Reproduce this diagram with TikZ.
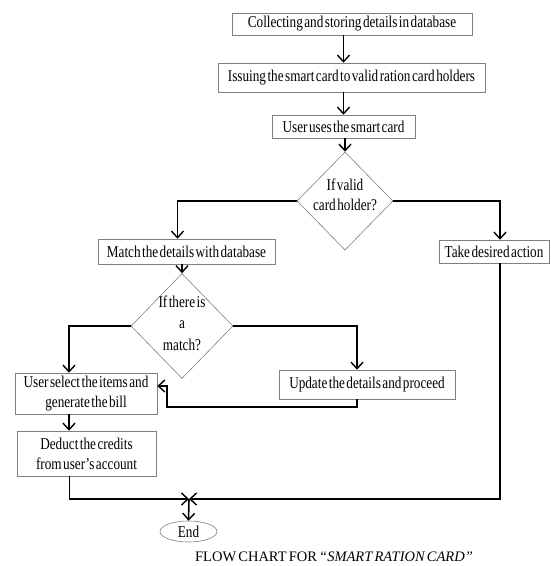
\documentclass[tikz,border=0pt]{standalone}
\usepackage{fontspec}
\setmainfont{Liberation Serif}[FakeStretch=0.8, WordSpace=0.45]
\newfontfamily\capfont{Liberation Serif}[WordSpace=0.6]
\usetikzlibrary{arrows.meta,shapes.geometric}
\begin{document}
\begin{tikzpicture}[x=1pt,y=-1pt,
  box/.style={draw=black!50, line width=0.6pt, rectangle, inner sep=0pt, align=center,
    font=\fontsize{16.5}{20}\selectfont},
  dia/.style={draw=black!50, line width=0.6pt, diamond, inner sep=0pt},
  dtext/.style={align=center, inner sep=0pt, font=\fontsize{16.5}{20}\selectfont},
  conn/.style={line width=1.6pt, black},
  arr/.style={conn, -{Straight Barb[length=6.5pt,width=12pt,line width=1.4pt]}}
]
\useasboundingbox (0,0) rectangle (551,566);
% boxes
\node[box, minimum width=240pt, minimum height=22pt] (b1) at (352,24) {Collecting and storing details in database};
\node[box, minimum width=267pt, minimum height=29pt] (b2) at (351.5,77.5) {Issuing the smart card to valid ration card holders};
\node[box, minimum width=143pt, minimum height=23pt] (b3) at (343.5,126.5) {User uses the smart card};
\node[dia, minimum width=96pt, minimum height=98pt] (d1) at (345,201) {};
\node[dtext] (d1t) at (345,195) {If valid\\card holder?};
\node[box, minimum width=177pt, minimum height=25pt] (m) at (186.5,251.5) {Match the details with database};
\node[box, minimum width=110pt, minimum height=23pt] (t) at (494,251.5) {Take desired action};
\node[dia, minimum width=102pt, minimum height=105pt] (d2) at (182,326) {};
\node[dtext, font=\fontsize{16.5}{21.5}\selectfont] (d2t) at (182,323) {If there is\\a\\match?};
\node[box, minimum width=142pt, minimum height=41pt] (u) at (86,393.5) {User select the items and\\generate the bill};
\node[box, minimum width=176pt, minimum height=29pt] (up) at (367,384.5) {Update the details and proceed};
\node[box, minimum width=139pt, minimum height=45pt] (dd) at (86.5,453.5) {Deduct the credits\\from user's account};
\node[draw=black!50, line width=0.6pt, ellipse, minimum width=57pt, minimum height=21pt, inner sep=0pt,
  font=\fontsize{16.5}{18}\selectfont] (e) at (188.5,531.5) {End};
\node[inner sep=0pt, font=\capfont\fontsize{14.5}{16}\selectfont] (cap) at (334,557) {FLOW CHART FOR \textit{“SMART RATION CARD”}};
% coordinates
\coordinate (lp) at (167,407);
\coordinate (mg) at (189,499);
% connectors
\draw[arr] (b1.south -| b3.center) -- (b2.north -| b3.center);
\draw[arr] (b2.south -| b3.center) -- (b3.north);
\draw[arr] (b3.south -| d1.north) -- (d1.north);
\draw[arr] (d1.west) -| ([xshift=-9pt]m.north);
\draw[arr] (d1.east) -| ([xshift=6pt]t.north);
\draw[arr] (m.south -| d2.north) -- (d2.north);
\draw[arr] (d2.west) -| ([xshift=-17pt]u.north);
\draw[arr] (d2.east) -| ([xshift=-10pt]up.north);
\draw[arr] ([xshift=-10pt]up.south) |- (lp) |- ([yshift=7.5pt]u.east);
\draw[arr] ([xshift=-17pt]u.south) -- ([xshift=-17pt]u.south |- dd.north);
\draw[arr] ([xshift=-17pt]dd.south) |- (mg);
\draw[arr] ([xshift=6pt]t.south) |- (mg);
\draw[arr] (mg) -- (e.north);
\end{tikzpicture}
\end{document}
